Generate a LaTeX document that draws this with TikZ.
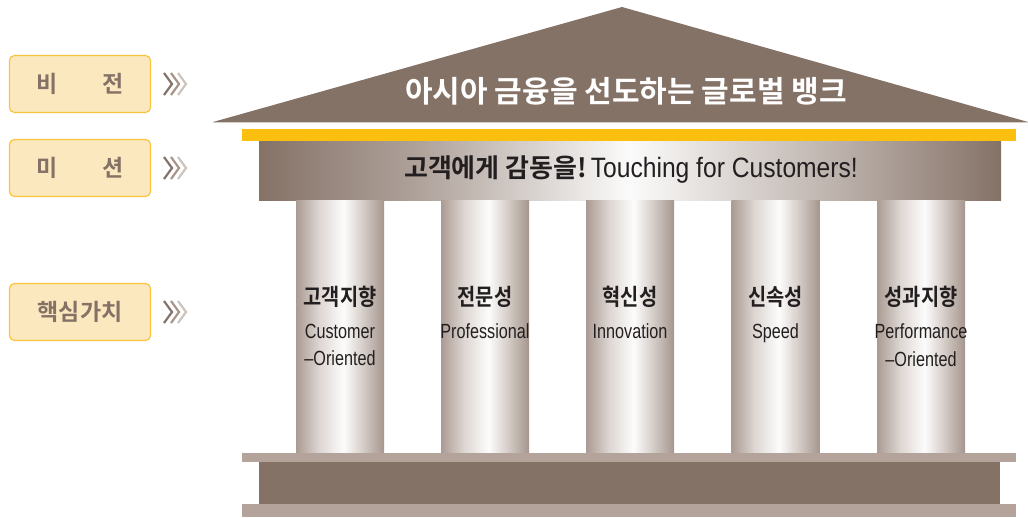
\documentclass[tikz,border=0pt]{standalone}
\usepackage{fontspec}
\setmainfont{Liberation Sans}
\newfontfamily\kr{Noto Sans CJK KR}[BoldFont={Noto Sans CJK KR Bold}]
\newfontfamily\krn{Noto Sans CJK KR}[BoldFont={Noto Sans CJK KR Bold}, FakeStretch=0.86]
\newfontfamily\en{Liberation Sans}[FakeStretch=0.79]
\newfontfamily\enw{Liberation Sans}[FakeStretch=0.88]
\definecolor{roofc}{HTML}{857267}
\definecolor{slabc}{HTML}{B3A39A}
\definecolor{barc}{HTML}{FBBF10}
\definecolor{boxfill}{HTML}{FCE8BE}
\definecolor{boxline}{HTML}{F8C43C}
\definecolor{chevA}{HTML}{857267}
\definecolor{chevB}{HTML}{A89589}
\definecolor{chevC}{HTML}{CFC4BC}
\definecolor{darktxt}{HTML}{231F20}
\pgfdeclarehorizontalshading{colshade}{100bp}{color(0bp)=(slabc!95!black); color(25bp)=(slabc!95!black); color(38bp)=(slabc!45!white); color(52bp)=(white!97!slabc); color(62bp)=(slabc!50!white); color(75bp)=(slabc!92!black); color(100bp)=(slabc!92!black)}
\pgfdeclarehorizontalshading{beamshade}{100bp}{color(0bp)=(roofc); color(25bp)=(roofc); color(36bp)=(roofc!65!white); color(50bp)=(white!97!roofc); color(64bp)=(roofc!55!white); color(75bp)=(roofc); color(100bp)=(roofc)}
\tikzset{
  labelbox/.style={draw=boxline, line width=1.2pt, fill=boxfill, rounded corners=5pt, minimum width=141pt, minimum height=57pt, inner sep=0pt, text=roofc, font=\kr\bfseries\fontsize{23}{26}\selectfont},
  colbox/.style={shade, shading=colshade, minimum width=88pt, minimum height=253pt, inner sep=0pt},
  kor/.style={text=darktxt, font=\krn\bfseries\fontsize{23}{26}\selectfont, inner sep=0pt},
  eng/.style={text=darktxt, font=\en\fontsize{20.5}{27.5}\selectfont, align=center, inner sep=0pt, anchor=north},
  chev/.style={line width=2.2pt},
}
\begin{document}
\begin{tikzpicture}[x=1pt,y=-1pt]
\useasboundingbox (0,0) rectangle (1028,517);
% roof
\fill[roofc] (213,122) -- (622,7) -- (1028,122) -- cycle;
\draw[roofc!35!white, line width=1pt] (213,122.5) -- (1028,122.5);
\node[text=white, font=\kr\bfseries\fontsize{30}{34}\selectfont, inner sep=0pt] (vision) at (626,91) {아시아 금융을 선도하는 글로벌 뱅크};
% yellow bar
\fill[barc] (242,129) rectangle (1016,141);
% entablature
\node[shade, shading=beamshade, minimum width=742pt, minimum height=59pt, inner sep=0pt] (beam) at (630,170.5) {};
\node[text=darktxt, inner sep=0pt] (mission) at (631,170) {{\kr\bfseries\fontsize{26}{28}\selectfont 고객에게 감동을!} {\enw\fontsize{28}{30}\selectfont Touching for Customers!}};
% columns
\node[colbox] (c1) at (340,326.5) {};
\node[colbox] (c2) at (485,326.5) {};
\node[colbox] (c3) at (630,326.5) {};
\node[colbox] (c4) at (775.5,326.5) {};
\node[colbox] (c5) at (921,326.5) {};
\node[kor] (k1) at (340,297) {고객지향};
\node[kor] (k2) at (485,297) {전문성};
\node[kor] (k3) at (630,297) {혁신성};
\node[kor] (k4) at (775.5,297) {신속성};
\node[kor] (k5) at (921,297) {성과지향};
\node[eng] (e1) at (340,323.5) {Customer\\–Oriented};
\node[eng] (e2) at (485,323.5) {Professional};
\node[eng] (e3) at (630,323.5) {Innovation};
\node[eng] (e4) at (775.5,323.5) {Speed};
\node[eng] (e5) at (921,323.5) {Performance\\–Oriented};
% base
\fill[slabc] (242,453) rectangle (1016,462);
\fill[roofc] (259,462) rectangle (1000,504);
\fill[slabc] (242,504) rectangle (1016,517);
% left labels
\node[labelbox] (b1) at (80,84) {비\hspace{1.95em}전};
\node[labelbox] (b2) at (80,168) {미\hspace{1.95em}션};
\node[labelbox] (b3) at (80,312) {핵심가치};
% chevrons
\foreach \n/\yy in {1/84,2/168,3/312}{
  \coordinate (ch\n) at (164,\yy);
  \draw[chev, chevC] ([xshift=14pt,yshift=-11pt]ch\n) -- ([xshift=22pt]ch\n) -- ([xshift=14pt,yshift=11pt]ch\n);
  \draw[chev, chevB] ([xshift=7pt,yshift=-11pt]ch\n) -- ([xshift=15pt]ch\n) -- ([xshift=7pt,yshift=11pt]ch\n);
  \draw[chev, chevA] ([yshift=-11pt]ch\n) -- ([xshift=8pt]ch\n) -- ([yshift=11pt]ch\n);
}
\end{tikzpicture}
\end{document}
